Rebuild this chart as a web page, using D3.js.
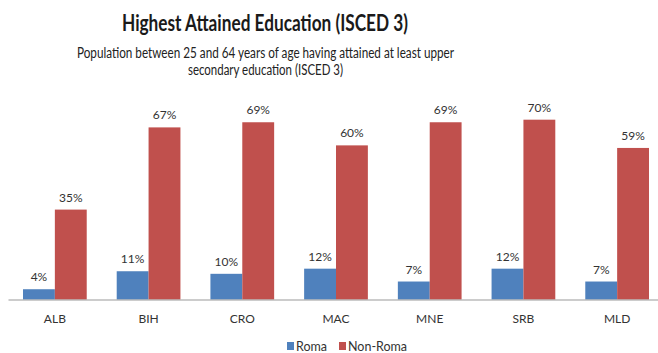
<!DOCTYPE html>
<html>
<head>
<meta charset="utf-8">
<script src="https://cdn.jsdelivr.net/npm/d3@7"></script>
<style>
  html, body { margin: 0; padding: 0; background: #fff; }
  svg { display: block; font-family: Lato, "Open Sans", Arial, sans-serif; }
</style>
</head>
<body>
<svg id="chart" width="658" height="353"></svg>
<script>
// Countries and shares (%) of the 25–64 population with at least ISCED 3
const categories = ["ALB", "BIH", "CRO", "MAC", "MNE", "SRB", "MLD"];
const roma = [4, 11, 10, 12, 7, 12, 7];
const nonRoma = [35, 67, 69, 60, 69, 70, 59];
const seriesNames = ["Roma", "Non-Roma"];
const seriesColors = ["#4F81BD", "#C0504D"];

const svg = d3.select("#chart");

const x = d3.scaleBand().domain(categories).range([8, 664]).paddingInner(0.32).paddingOuter(0.16);
const inner = d3.scaleBand().domain(seriesNames).range([0, x.bandwidth()]);
const y = d3.scaleLinear().domain([0, 80]).range([299.5, 94]);

const rows = categories.map((c, i) => ({ cat: c, vals: [roma[i], nonRoma[i]] }));

// Title and subtitle
svg.append("text")
  .attr("x", 265).attr("y", 31)
  .attr("text-anchor", "middle")
  .attr("font-size", 23).attr("font-weight", "bold").attr("fill", "#1a1a1a")
  .attr("textLength", 286).attr("lengthAdjust", "spacingAndGlyphs")
  .text("Highest Attained Education (ISCED 3)");

svg.append("text")
  .attr("x", 265.5).attr("y", 58)
  .attr("text-anchor", "middle")
  .attr("font-size", 14.5).attr("fill", "#222")
  .attr("textLength", 377).attr("lengthAdjust", "spacingAndGlyphs")
  .text("Population between 25 and 64 years of age having attained at least upper");

svg.append("text")
  .attr("x", 265.5).attr("y", 75)
  .attr("text-anchor", "middle")
  .attr("font-size", 14.5).attr("fill", "#222")
  .attr("textLength", 155).attr("lengthAdjust", "spacingAndGlyphs")
  .text("secondary education (ISCED 3)");

// Bars
const groups = svg.append("g").selectAll("g")
  .data(rows).join("g")
  .attr("transform", d => `translate(${x(d.cat)},0)`);

groups.selectAll("rect")
  .data(d => d.vals.map((v, i) => ({ v, s: seriesNames[i], i })))
  .join("rect")
  .attr("x", d => inner(d.s))
  .attr("width", inner.bandwidth())
  .attr("y", d => y(d.v))
  .attr("height", d => y(0) - y(d.v))
  .attr("fill", d => seriesColors[d.i]);

groups.selectAll("text.val")
  .data(d => d.vals.map((v, i) => ({ v, s: seriesNames[i], i })))
  .join("text")
  .attr("class", "val")
  .attr("x", d => inner(d.s) + inner.bandwidth() / 2)
  .attr("y", d => y(d.v) - 8)
  .attr("text-anchor", "middle")
  .attr("font-size", 12).attr("fill", "#333")
  .text(d => d.v + "%");

// Category axis
const xAxis = svg.append("g")
  .attr("transform", `translate(0,${y(0)})`)
  .call(d3.axisBottom(x).tickSize(0).tickPadding(15));
xAxis.select(".domain").attr("stroke", "#999").attr("stroke-width", 1.2);
xAxis.selectAll("text")
  .attr("font-size", 12).attr("fill", "#333")
  .attr("font-family", "Lato, 'Open Sans', Arial, sans-serif");

// Legend
const legendX = [287, 339];
const legend = svg.append("g").selectAll("g")
  .data(seriesNames).join("g")
  .attr("transform", (d, i) => `translate(${legendX[i]},342)`);
legend.append("rect")
  .attr("width", 7).attr("height", 8)
  .attr("fill", (d, i) => seriesColors[i]);
legend.append("text")
  .attr("x", 9).attr("y", 8.5)
  .attr("font-size", 12.5).attr("fill", "#333")
  .text(d => d);
</script>
</body>
</html>
